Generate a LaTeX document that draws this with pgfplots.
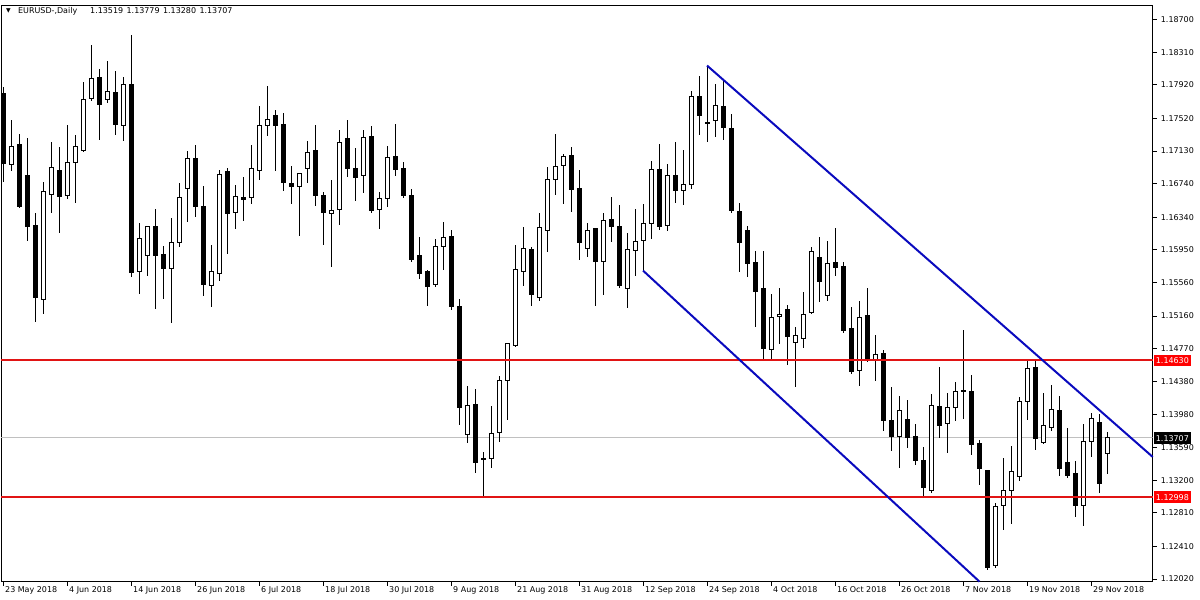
\documentclass[border=0pt]{standalone}
\usepackage{fontspec}
\setmainfont{DejaVu Sans}
\usepackage{pgfplots}
\usepackage{pgfplotstable}
\pgfplotsset{compat=1.18}

\definecolor{mtred}{RGB}{225,20,20}
\definecolor{mtblue}{RGB}{10,10,190}
\definecolor{bidgray}{RGB}{192,192,192}

% EURUSD daily candles: index, open, high, low, close
\pgfplotstableread{
i O H L C
0 1.17816 1.17900 1.16766 1.16981
1 1.16969 1.17506 1.16897 1.17184
2 1.17208 1.17339 1.16455 1.16467
3 1.16837 1.17291 1.16061 1.16228
4 1.16240 1.16396 1.15094 1.15381
5 1.15357 1.16766 1.15190 1.16646
6 1.16611 1.17243 1.16396 1.16933
7 1.16897 1.17184 1.16157 1.16587
8 1.16599 1.17446 1.16563 1.16993
9 1.16993 1.17327 1.16515 1.17184
10 1.17136 1.17960 1.17124 1.17745
11 1.17757 1.18402 1.17733 1.17996
12 1.18007 1.18115 1.17267 1.17685
13 1.17745 1.18210 1.17709 1.17840
14 1.17828 1.18091 1.17327 1.17446
15 1.17434 1.18019 1.17255 1.17924
16 1.17924 1.18521 1.15631 1.15679
17 1.15691 1.16276 1.15428 1.16085
18 1.15882 1.16240 1.15643 1.16228
19 1.16228 1.16443 1.15249 1.15882
20 1.15894 1.16002 1.15369 1.15727
21 1.15727 1.16336 1.15082 1.16037
22 1.16037 1.16754 1.15990 1.16575
23 1.16682 1.17136 1.16288 1.17040
24 1.17040 1.17208 1.16348 1.16467
25 1.16467 1.16718 1.15404 1.15536
26 1.15524 1.16014 1.15273 1.15691
27 1.15667 1.16909 1.15584 1.16849
28 1.16885 1.16933 1.15906 1.16384
29 1.16396 1.16730 1.16205 1.16587
30 1.16575 1.16825 1.16300 1.16551
31 1.16575 1.17208 1.16503 1.16921
32 1.16897 1.17673 1.16790 1.17434
33 1.17434 1.17912 1.17315 1.17506
34 1.17554 1.17625 1.16897 1.17434
35 1.17446 1.17590 1.16658 1.16754
36 1.16742 1.16957 1.16503 1.16706
37 1.16706 1.16873 1.16121 1.16861
38 1.16921 1.17255 1.16754 1.17112
39 1.17136 1.17446 1.16479 1.16599
40 1.16599 1.16646 1.16014 1.16396
41 1.16384 1.16790 1.15751 1.16419
42 1.16431 1.17387 1.16252 1.17231
43 1.17279 1.17506 1.16825 1.16921
44 1.16921 1.17172 1.16539 1.16813
45 1.16837 1.17387 1.16634 1.17291
46 1.17303 1.17434 1.16396 1.16419
47 1.16431 1.16646 1.16205 1.16563
48 1.16563 1.17196 1.16467 1.17052
49 1.17064 1.17458 1.16837 1.16909
50 1.16921 1.17004 1.16575 1.16599
51 1.16599 1.16682 1.15811 1.15834
52 1.15882 1.16109 1.15608 1.15667
53 1.15691 1.15715 1.15285 1.15512
54 1.15536 1.16085 1.15512 1.15990
55 1.15990 1.16288 1.15715 1.16097
56 1.16109 1.16193 1.15237 1.15273
57 1.15273 1.15369 1.13864 1.14067
58 1.13745 1.14330 1.13649 1.14091
59 1.14103 1.14294 1.13291 1.13411
60 1.13458 1.13542 1.12998 1.13446
61 1.13458 1.14091 1.13351 1.13757
62 1.13769 1.14449 1.13661 1.14390
63 1.14390 1.14843 1.13924 1.14831
64 1.14808 1.16014 1.14796 1.15715
65 1.15691 1.16228 1.15524 1.15966
66 1.15954 1.15990 1.15285 1.15416
67 1.15381 1.16396 1.15345 1.16216
68 1.16181 1.16945 1.15930 1.16790
69 1.16790 1.17339 1.16611 1.16945
70 1.16957 1.17100 1.16503 1.17064
71 1.17076 1.17184 1.16408 1.16670
72 1.16682 1.16909 1.15834 1.16037
73 1.15966 1.16276 1.15870 1.16181
74 1.16205 1.16216 1.15285 1.15811
75 1.15811 1.16396 1.15416 1.16300
76 1.16312 1.16587 1.16049 1.16228
77 1.16228 1.16491 1.15500 1.15524
78 1.15488 1.16157 1.15261 1.15954
79 1.15942 1.16443 1.15643 1.16049
80 1.16061 1.16503 1.15703 1.16264
81 1.16264 1.17016 1.16085 1.16909
82 1.16909 1.17219 1.16193 1.16228
83 1.16240 1.16981 1.16181 1.16837
84 1.16837 1.17243 1.16515 1.16658
85 1.16658 1.17148 1.16491 1.16730
86 1.16730 1.17852 1.16682 1.17781
87 1.17781 1.18031 1.17327 1.17554
88 1.17470 1.18151 1.17243 1.17458
89 1.17494 1.17936 1.17303 1.17673
90 1.17661 1.17984 1.17267 1.17410
91 1.17399 1.17578 1.16396 1.16419
92 1.16408 1.16515 1.15691 1.16037
93 1.16181 1.16240 1.15631 1.15787
94 1.15799 1.15942 1.15034 1.15452
95 1.15488 1.15942 1.14628 1.14772
96 1.14760 1.15428 1.14628 1.15142
97 1.15154 1.15500 1.14831 1.15178
98 1.15237 1.15297 1.14580 1.14915
99 1.14843 1.15034 1.14318 1.14927
100 1.14891 1.15452 1.14784 1.15178
101 1.15202 1.15990 1.15190 1.15930
102 1.15858 1.16109 1.15333 1.15572
103 1.15404 1.16061 1.15345 1.15787
104 1.15799 1.16216 1.15643 1.15739
105 1.15751 1.15811 1.14963 1.14987
106 1.15011 1.15273 1.14473 1.14497
107 1.14509 1.15345 1.14330 1.15142
108 1.15166 1.15500 1.14617 1.14640
109 1.14640 1.14939 1.14390 1.14700
110 1.14712 1.14760 1.13793 1.13912
111 1.13912 1.14318 1.13553 1.13721
112 1.13721 1.14210 1.13351 1.14031
113 1.13924 1.14163 1.13589 1.13709
114 1.13721 1.13876 1.13387 1.13434
115 1.13434 1.13602 1.13005 1.13112
116 1.13076 1.14234 1.13052 1.14091
117 1.14079 1.14557 1.13709 1.13852
118 1.13876 1.14246 1.13530 1.14067
119 1.14067 1.14378 1.13912 1.14258
120 1.14270 1.14999 1.13936 1.14258
121 1.14258 1.14461 1.13506 1.13626
122 1.13637 1.13685 1.13148 1.13339
123 1.13315 1.13315 1.12133 1.12157
124 1.12181 1.12933 1.12157 1.12885
125 1.12897 1.13470 1.12611 1.13076
126 1.13076 1.13613 1.12682 1.13303
127 1.13243 1.14199 1.13196 1.14139
128 1.14139 1.14628 1.13924 1.14533
129 1.14545 1.14640 1.13565 1.13697
130 1.13649 1.14246 1.13637 1.13852
131 1.13828 1.14342 1.13793 1.14043
132 1.14031 1.14210 1.13255 1.13339
133 1.13411 1.13828 1.13231 1.13255
134 1.13279 1.13434 1.12766 1.12897
135 1.12897 1.13876 1.12658 1.13661
136 1.13661 1.14008 1.13482 1.13936
137 1.13888 1.13996 1.13052 1.13160
138 1.13519 1.13779 1.13280 1.13707
}\candles

\pgfplotsset{
  chartbase/.style={
    at={(1.5,22)}, anchor=south west,
    scale only axis, width=1151.5bp, height=576bp,
    xmin=-0.225, xmax=143.71, ymin=1.1199, ymax=1.18867,
  },
}

\begin{document}
\begin{tikzpicture}[x=1bp,y=1bp]
\path[use as bounding box] (0,0) rectangle (1200,600);

% frame, ticks, bid line, wicks
\begin{axis}[chartbase,
    axis line style={black, line width=1bp},
    tick style={black, line width=1bp},
    tick align=outside, major tick length=4bp,
    xtick pos=left, ytick pos=right, yticklabel pos=right,
    xtick={0,8,...,136},
    xticklabels={23 May 2018,4 Jun 2018,14 Jun 2018,26 Jun 2018,6 Jul 2018,18 Jul 2018,30 Jul 2018,9 Aug 2018,21 Aug 2018,31 Aug 2018,12 Sep 2018,24 Sep 2018,4 Oct 2018,16 Oct 2018,26 Oct 2018,7 Nov 2018,19 Nov 2018,29 Nov 2018},
    ytick={1.12020,1.12410,1.12810,1.13200,1.13590,1.13980,1.14380,1.14770,1.15160,1.15560,1.15950,1.16340,1.16740,1.17130,1.17520,1.17920,1.18310,1.18700},
    yticklabels={1.12020,1.12410,1.12810,1.13200,1.13590,1.13980,1.14380,1.14770,1.15160,1.15560,1.15950,1.16340,1.16740,1.17130,1.17520,1.17920,1.18310,1.18700},
    every tick label/.append style={font=\fontsize{8}{9.6}\selectfont},
    xticklabel style={anchor=north west, inner sep=1bp, xshift=1bp},
    yticklabel style={anchor=west, inner sep=1bp, xshift=3bp},
  ]
  \addplot [bidgray, line width=1bp, forget plot] coordinates {(-1,1.13707) (150,1.13707)};
  \addplot [draw=none, mark=none, forget plot,
    error bars/.cd, y dir=both, y explicit, error mark=none,
    error bar style={draw=black, line width=1bp, solid}]
    table [x=i, y=C, y error plus expr=\thisrow{H}-\thisrow{C}, y error minus expr=\thisrow{C}-\thisrow{L}] {\candles};
\end{axis}

% candle bodies
\begin{axis}[chartbase, hide axis, ybar stacked, bar width=4bp]
  \addplot [draw=none, fill=none] table [x=i, y expr={min(\thisrow{O},\thisrow{C})}] {\candles};
  \addplot [fill=white, draw=black, line width=1bp] table [x=i, y expr={max(\thisrow{C}-\thisrow{O},0)}] {\candles};
  \addplot [fill=black, draw=black, line width=1bp] table [x=i, y expr={max(\thisrow{O}-\thisrow{C},0)}] {\candles};
\end{axis}

% levels, channel and price boxes
\begin{axis}[chartbase, hide axis, clip=false]
  \addplot [mtred, line width=2bp] coordinates {(-0.225,1.14630) (143.71,1.14630)};
  \addplot [mtred, line width=2bp] coordinates {(-0.225,1.12998) (143.71,1.12998)};
  \addplot [mtblue, line width=2bp] coordinates {(88,1.18151) (143.71,1.13478)};
  \addplot [mtblue, line width=2bp] coordinates {(80,1.15703) (122.05,1.1199)};
  \tikzset{pricebox/.style={anchor=west, xshift=1bp, text=white, inner xsep=2bp, inner ysep=2.5bp,
      text height=6.5bp, text depth=0bp, font=\fontsize{8}{9.6}\selectfont}}
  \node [pricebox, fill=red] at (axis cs:143.71,1.14630) {1.14630};
  \node [pricebox, fill=red] at (axis cs:143.71,1.12998) {1.12998};
  \node [pricebox, fill=black] at (axis cs:143.71,1.13707) {1.13707};
\end{axis}

% chart title inside the frame
\begin{scope}[every node/.style={anchor=west, inner sep=0pt}]
  \node [font=\fontsize{6}{6}\selectfont] at (6,589) {▼};
  \node [font=\fontsize{8}{9.6}\selectfont] at (18,589)
    {EURUSD-,Daily\hspace{13bp}1.13519\hspace{3.5bp}1.13779\hspace{3.5bp}1.13280\hspace{3.5bp}1.13707};
\end{scope}
\end{tikzpicture}
\end{document}
